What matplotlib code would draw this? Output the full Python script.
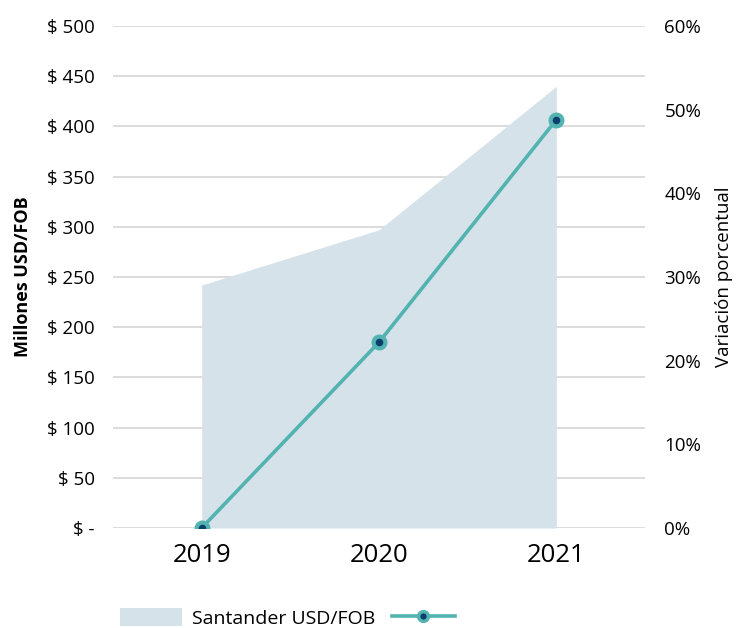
import matplotlib.pyplot as plt
import numpy as np
from matplotlib.patches import Patch
from matplotlib.lines import Line2D

plt.rcParams['font.family'] = ['Open Sans', 'DejaVu Sans']

years = ['2019', '2020', '2021']
usd_fob = [242, 297, 440]          # millones USD/FOB (area)
variacion = [0.0, 22.2, 48.8]      # variacion porcentual (line)
left_ticks = [0, 50, 100, 150, 200, 250, 300, 350, 400, 450, 500]
left_labels = ['$ -'] + ['$ %d' % v for v in left_ticks[1:]]
right_ticks = [0, 10, 20, 30, 40, 50, 60]

area_col = '#d5e2ea'
line_col = '#52b3b1'
dot_col = '#0d3f6e'

fig = plt.figure(figsize=(7.39, 6.28), dpi=100)
ax = fig.add_axes([113/739, 1-528/628, (645-113)/739, (528-26)/628])
x = np.arange(len(years))

ax.fill_between(x, 0, usd_fob, color=area_col, linewidth=0, zorder=1)
ax.set_ylim(0, 500)
ax.set_xlim(-0.5, 2.5)
ax.set_yticks(left_ticks)
ax.set_yticklabels(left_labels)
ax.yaxis.grid(True, color='#d9d9d9', linewidth=1.3, zorder=0)
ax.set_axisbelow(True)
ax.set_xticks(x)
ax.set_xticklabels(years, fontsize=18.5)
ax.tick_params(axis='y', length=0, pad=13, labelsize=13.5)
ax.tick_params(axis='x', length=0, pad=11)
for s in ax.spines.values():
    s.set_visible(False)
ax.set_ylabel('Millones USD/FOB', fontsize=13, fontweight='bold', labelpad=11)

ax2 = ax.twinx()
ax2.plot(x, variacion, color=line_col, linewidth=2.6, marker='o', markersize=8.5,
         markerfacecolor=dot_col, markeredgecolor=line_col, markeredgewidth=3, zorder=3)
ax2.set_ylim(0, 60)
ax2.set_yticks(right_ticks)
ax2.set_yticklabels(['%d%%' % v for v in right_ticks])
ax2.tick_params(axis='y', length=0, pad=14, labelsize=13.5)
for s in ax2.spines.values():
    s.set_visible(False)
ax2.set_ylabel('Variación porcentual', fontsize=13.5, labelpad=10)

handles = [Patch(facecolor=area_col, edgecolor='none'),
           Line2D([0], [0], color=line_col, linewidth=2.6, marker='o', markersize=7,
                  markerfacecolor=dot_col, markeredgecolor=line_col, markeredgewidth=2.5)]
fig.legend(handles, ['Santander USD/FOB', ''], loc='center', bbox_to_anchor=(292/739, 1-618/628),
           ncol=2, frameon=False, fontsize=14, handlelength=3.2, handletextpad=0.5,
           columnspacing=0.9, handleheight=1.0)

fig.savefig('out.png', dpi=100)
